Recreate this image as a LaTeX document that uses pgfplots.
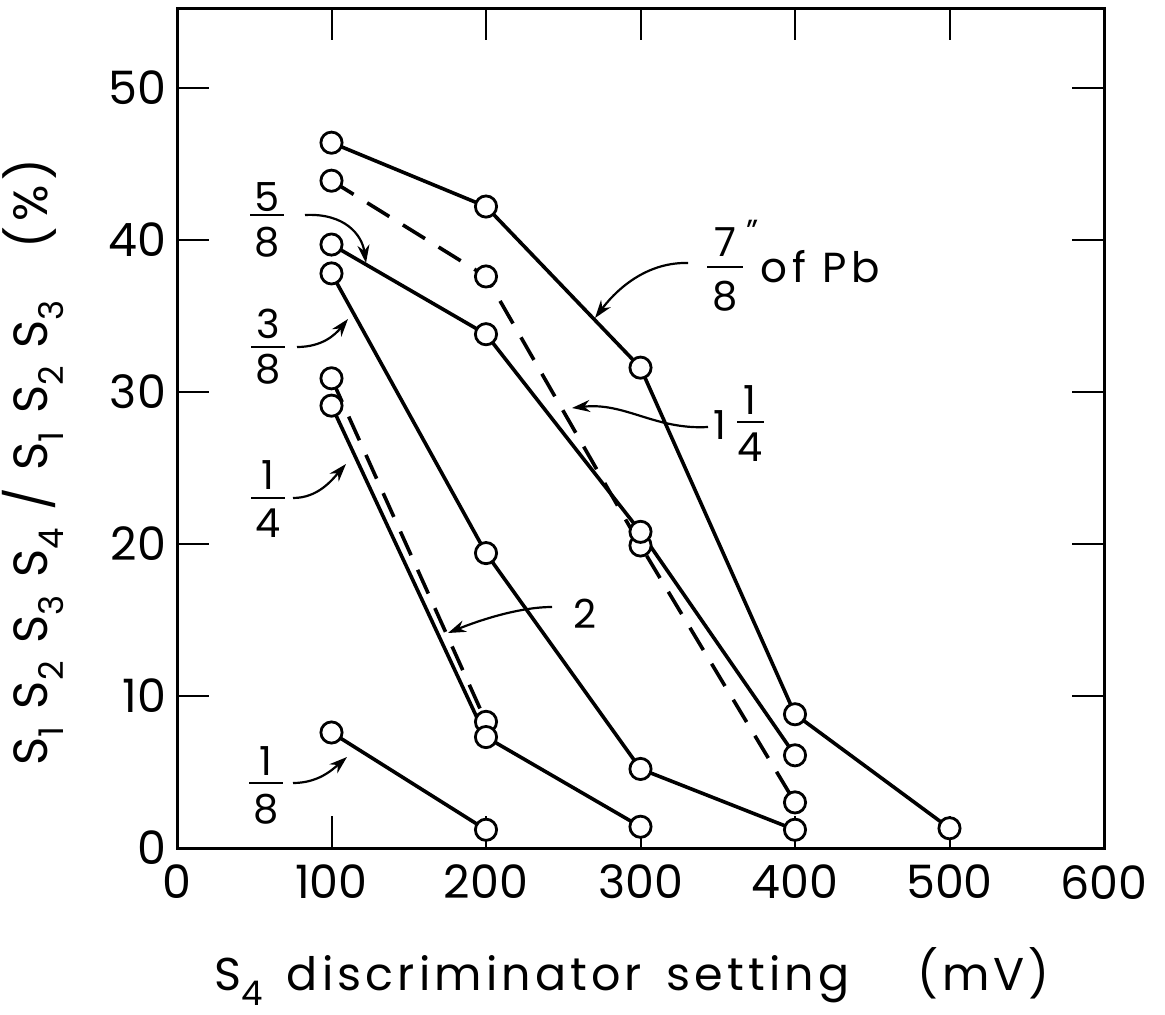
\documentclass[border=0pt]{standalone}
\usepackage{fontspec}
\setmainfont{Poppins}
\newfontfamily\spacedx[LetterSpace=9]{Poppins}
\newfontfamily\spacedy[LetterSpace=10]{Poppins}
\newfontfamily\spacedp[LetterSpace=12]{Poppins}
\usepackage{pgfplots}
\pgfplotsset{compat=1.18}
\usetikzlibrary{arrows.meta,calc}

\newcommand\sub[1]{\raisebox{-0.33em}{\fontsize{17}{17}\selectfont #1}}

\begin{document}
\begin{tikzpicture}
\begin{axis}[name=ax, scale only axis, width=463.5pt, height=420pt,
  xmin=0, xmax=600, ymin=0, ymax=55.26,
  xtick={0,100,...,600}, ytick={0,10,...,50},
  tick align=inside, major tick length=16pt,
  every tick/.style={line width=1pt, black},
  axis line style={line width=1.5pt},
  /pgf/number format/assume math mode=true,
  tick label style={font=\fontsize{23}{27}\selectfont},
  xticklabel style={yshift=-5pt},
  yticklabel style={xshift=-2pt},
  clip=false,
  pl/.style={line width=1.8pt, black, mark=*, mark size=5.3pt,
     mark options={solid, fill=white, draw=black, line width=1.4pt}},
  dsh/.style={pl, dash pattern=on 13pt off 8pt},
]
% 7/8" of Pb
\addplot[pl] coordinates {(100,46.4) (200,42.2) (300,31.6) (400,8.8) (500,1.3)};
% 1 1/4 (dashed)
\addplot[dsh] coordinates {(100,43.9) (200,37.6) (300,19.9) (400,3.0)};
% 5/8
\addplot[pl] coordinates {(100,39.7) (200,33.8) (300,20.8) (400,6.1)};
% 3/8
\addplot[pl] coordinates {(100,37.8) (200,19.4) (300,5.2) (400,1.2)};
% 2 (dashed)
\addplot[dsh] coordinates {(100,30.9) (200,8.3)};
% 1/4
\addplot[pl] coordinates {(100,29.1) (200,7.3) (300,1.4)};
% 1/8
\addplot[pl] coordinates {(100,7.6) (200,1.2)};
\end{axis}

\begin{scope}[shift={($(ax.south west)+(-88.5pt,424pt)$)}, x=0.5pt, y=-0.5pt]
  \tikzset{arr/.style={line width=1.1pt, -{Stealth[length=9pt,width=6pt]}},
           fr/.style={font=\fontsize{20}{24}\selectfont, inner sep=0pt}}
  % y label
  \node[rotate=90, anchor=east, inner sep=0pt, font=\fontsize{24}{28}\spacedy] at (33,158)
    {S\sub{1} S\sub{2} S\sub{3} S\sub{4} / S\sub{1} S\sub{2} S\sub{3}\hspace{26pt}(\%)};
  % x label
  \node[anchor=base, font=\fontsize{23}{27}\spacedx] at (632,990)
    {S\sub{4}\hspace{4pt} discriminator\hspace{4pt} setting\hspace{34pt}(mV)};
  % 5/8
  \node[fr] at (267,197) {5}; \draw[line width=1pt] (250,215) -- (284,215); \node[fr] at (267,242) {8};
  \draw[arr] (305,215) .. controls (345,213) and (362,235) .. (366,263);
  % 3/8
  \node[fr] at (268,324) {3}; \draw[line width=1pt] (251,347) -- (285,347); \node[fr] at (268,369) {8};
  \draw[arr] (297,347) .. controls (322,347) and (335,335) .. (348,319);
  % 1/4
  \node[fr] at (268,475) {1}; \draw[line width=1pt] (251,498) -- (285,498); \node[fr] at (268,523) {4};
  \draw[arr] (293,498) .. controls (318,498) and (332,480) .. (346,464);
  % 1/8
  \node[fr] at (266,761) {1}; \draw[line width=1pt] (249,783) -- (283,783); \node[fr] at (266,809) {8};
  \draw[arr] (293,783) .. controls (318,783) and (332,770) .. (347,757);
  % 2
  \node[fr] at (585,614) {2};
  \draw[arr] (552,607) .. controls (520,607) and (480,620) .. (448,633);
  % 7/8" of Pb
  \node[fr] at (725,242) {7}; \draw[line width=1pt] (707,267) -- (743,267); \node[fr] at (725,296) {8};
  \node[fr, anchor=north west] at (746,220) {\fontsize{16}{16}\selectfont "};
  \node[anchor=base west, inner sep=0pt, font=\fontsize{21}{25}\spacedp] at (760,282) {of Pb};
  \draw[arr] (688,263) .. controls (650,262) and (620,285) .. (595,318);
  % 1 1/4
  \node[fr] at (720,425) {1};
  \node[fr] at (750,400) {1}; \draw[line width=1pt] (737,422) -- (764,422); \node[fr] at (750,447) {4};
  \draw[arr] (708,427) .. controls (655,430) and (625,402) .. (572,408);
  \pgfresetboundingbox
  \path[use as bounding box] (0,0) rectangle (1165,1014);
\end{scope}
\end{tikzpicture}
\end{document}
